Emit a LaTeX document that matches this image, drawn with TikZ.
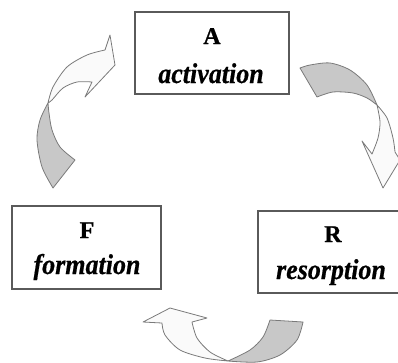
\documentclass[tikz,border=0pt]{standalone}
\usepackage{fontspec}
\setmainfont{Liberation Serif}[BoldFeatures={FakeBold=0.8},BoldItalicFeatures={FakeBold=0.6}]
\usepackage{graphicx}
\definecolor{boxline}{HTML}{5A5A5A}
\definecolor{arrowline}{HTML}{7A7A7A}
\definecolor{backfill}{HTML}{C8C8C8}
\definecolor{frontfill}{HTML}{FAFAFA}
\tikzset{
  box/.style={draw=boxline, line width=1.3pt, fill=white, rectangle, inner sep=0pt},
  letter/.style={anchor=base, inner sep=0pt, font=\fontsize{24}{28}\selectfont\bfseries},
  word/.style={anchor=base, inner sep=0pt, font=\fontsize{26}{30}\selectfont\bfseries\itshape},
  backside/.style={draw=arrowline, line width=0.8pt, fill=backfill, line join=round},
  frontside/.style={draw=arrowline, line width=0.8pt, fill=frontfill, line join=round}
}
\newcommand{\tall}[1]{\scalebox{1}[1.1]{#1}}
\begin{document}
\begin{tikzpicture}[x=1pt,y=-1pt]
\useasboundingbox (0,0) rectangle (398,362);
\clip (0,0) rectangle (398,362);
% boxes
\node[box, minimum width=154pt, minimum height=82pt] (A) at (212,53) {};
\node[box, minimum width=149pt, minimum height=83pt] (F) at (86.5,247.5) {};
\node[box, minimum width=146pt, minimum height=82pt] (R) at (331,252) {};
% labels
\node[letter] (Al) at (212,44) {A};
\node[word] (Aw) at (211,83) {\tall{activation}};
\node[letter] (Fl) at (87,238) {F};
\node[word] (Fw) at (87,274) {\tall{formation}};
\node[letter] (Rl) at (333,242) {R};
\node[word] (Rw) at (331,279) {\tall{resorption}};
% left arrow (F -> A)
\filldraw[backside] plot[smooth] coordinates {(53,188) (42,167) (37,140) (40,120) (48,103)}
  -- plot[smooth] coordinates {(48,103) (49,113) (52,130) (60,147) (75,160)} -- cycle;
\filldraw[frontside] plot[smooth] coordinates {(48,103) (53,87) (67,67) (87,55) (105,50)}
  -- (110,35) -- (115,65) -- (85,97) -- (92,82)
  -- plot[smooth] coordinates {(92,82) (77,82) (63,88) (52,100) (48,103)} -- cycle;
% right arrow (A -> R)
\filldraw[backside] plot[smooth] coordinates {(300,68) (310,65) (330,63) (350,70) (367,85) (377,105)}
  -- plot[smooth] coordinates {(377,105) (367,98) (353,93) (333,92) (317,97)} -- cycle;
\filldraw[frontside] plot[smooth] coordinates {(377,105) (387,118) (393,138) (395,152)}
  -- (400,160) -- (383,188) -- (362,141) -- (372,154)
  -- plot[smooth] coordinates {(372,154) (378,138) (380,122) (377,105)} -- cycle;
% bottom arrow (R -> F)
\filldraw[backside] plot[smooth] coordinates {(303,322) (297,340) (280,355) (257,362) (228,361)}
  -- plot[smooth] coordinates {(228,361) (250,350) (263,337) (270,320)} -- cycle;
\filldraw[frontside] plot[smooth] coordinates {(228,361) (205,358) (180,350) (165,335) (162,323)}
  -- (143,322) -- (170,308) -- (207,318) -- (192,322)
  -- plot[smooth] coordinates {(192,322) (197,338) (210,352) (228,361)} -- cycle;
\end{tikzpicture}
\end{document}
